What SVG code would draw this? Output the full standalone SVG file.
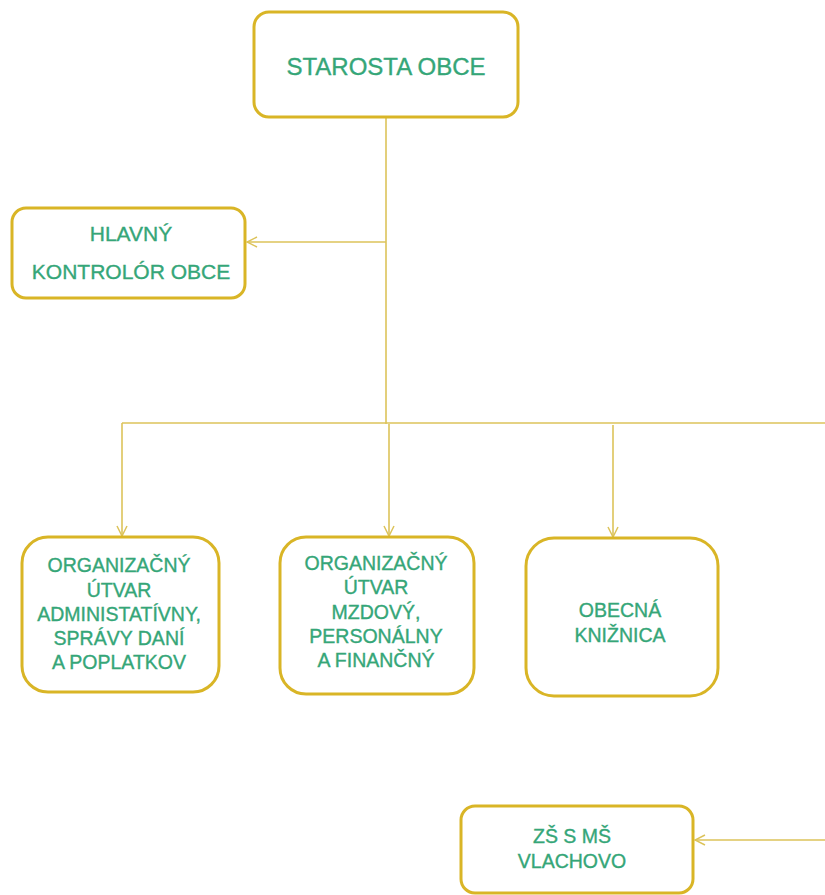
<svg xmlns="http://www.w3.org/2000/svg" width="825" height="895" viewBox="0 0 825 895">
<style>
.box{fill:#fff;stroke:#d9b526;stroke-width:3}
.t{font-family:"Liberation Sans",Arial,sans-serif;fill:#35a678;stroke:#35a678;stroke-width:0.35;text-anchor:middle}
.ln{fill:none;stroke:#dcc35a;stroke-width:1.6}
</style>
<defs>
<marker id="ah" viewBox="0 0 12 12" refX="11" refY="6" markerWidth="12" markerHeight="12" markerUnits="userSpaceOnUse" orient="auto">
<path d="M1,1 L11,6 L1,11" fill="none" stroke="#dcc35a" stroke-width="1.5"/>
</marker>
</defs>
<rect width="825" height="895" fill="#fff"/>
<g id="connectors">
<path class="ln" d="M386,117 V424"/>
<path class="ln" d="M386,242 H247" marker-end="url(#ah)"/>
<path class="ln" d="M122,423 H825"/>
<path class="ln" d="M122,423 V536" marker-end="url(#ah)"/>
<path class="ln" d="M389,424 V536" marker-end="url(#ah)"/>
<path class="ln" d="M613,425 V537" marker-end="url(#ah)"/>
<path class="ln" d="M825,840 H695" marker-end="url(#ah)"/>
</g>
<g id="starosta">
<rect class="box" x="254" y="12" width="264" height="105" rx="15"/>
<text class="t" x="386" y="75" font-size="24">STAROSTA OBCE</text>
</g>
<g id="kontrolor">
<rect class="box" x="12" y="208" width="233" height="90" rx="14"/>
<text class="t" x="131" y="241" font-size="21">HLAVNÝ</text>
<text class="t" x="131" y="279" font-size="21">KONTROLÓR OBCE</text>
</g>
<g id="utvar1">
<rect class="box" x="22" y="537" width="197" height="155" rx="26"/>
<g class="t" font-size="19.5">
<text x="119" y="572">ORGANIZAČNÝ</text>
<text x="119" y="597">ÚTVAR</text>
<text x="119" y="621">ADMINISTATÍVNY,</text>
<text x="119" y="645">SPRÁVY DANÍ</text>
<text x="119" y="669">A POPLATKOV</text>
</g>
</g>
<g id="utvar2">
<rect class="box" x="280" y="537" width="194" height="157" rx="26"/>
<g class="t" font-size="19.5">
<text x="376" y="570">ORGANIZAČNÝ</text>
<text x="376" y="594">ÚTVAR</text>
<text x="376" y="619">MZDOVÝ,</text>
<text x="376" y="643">PERSONÁLNY</text>
<text x="376" y="667">A FINANČNÝ</text>
</g>
</g>
<g id="kniznica">
<rect class="box" x="526" y="538" width="192" height="158" rx="28"/>
<text class="t" x="620" y="617" font-size="19.5">OBECNÁ</text>
<text class="t" x="620" y="642" font-size="19.5">KNIŽNICA</text>
</g>
<g id="zs">
<rect class="box" x="461" y="806" width="232" height="87" rx="14"/>
<text class="t" x="572" y="843" font-size="19.5">ZŠ S MŠ</text>
<text class="t" x="572" y="868" font-size="19.5">VLACHOVO</text>
</g>
</svg>
